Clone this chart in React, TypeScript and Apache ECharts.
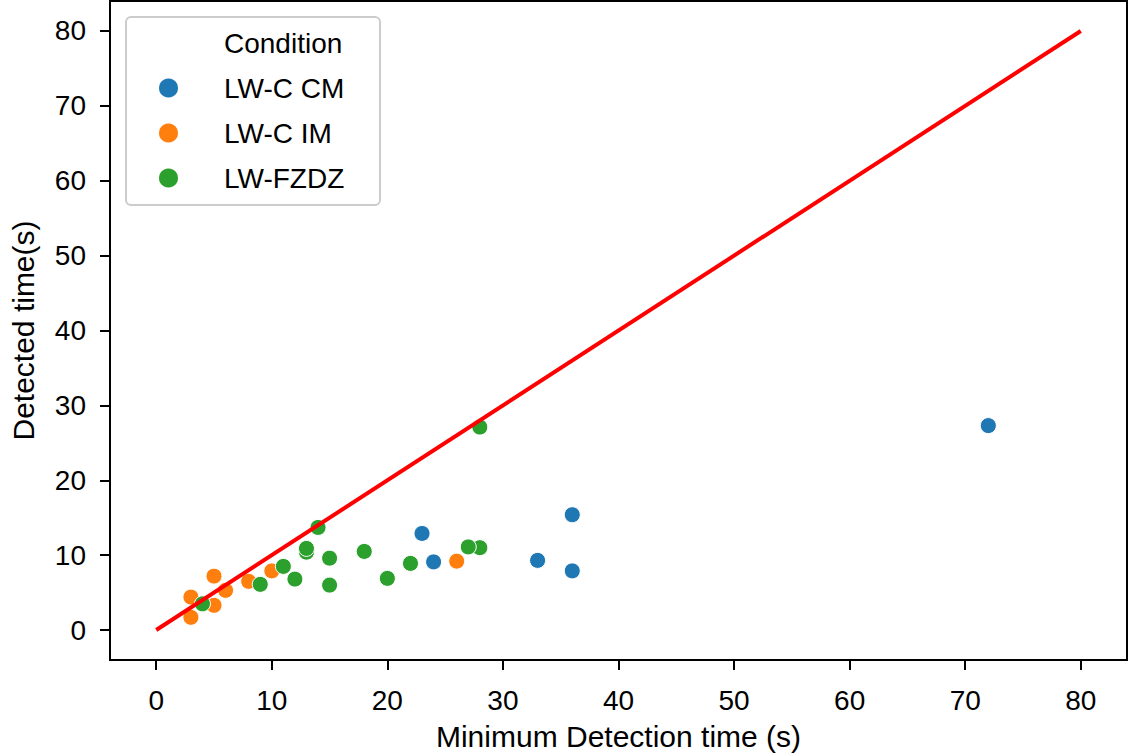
import React, { useEffect, useRef } from "react";
import * as echarts from "echarts";

const cmX = [72, 36, 36, 33, 23, 24];
const cmY = [27.3, 15.4, 7.9, 9.3, 12.9, 9.1];
const imX = [26, 3, 3, 5, 5, 6, 8, 10];
const imY = [9.2, 4.4, 1.7, 7.2, 3.3, 5.3, 6.5, 7.9];
const fzX = [28, 4, 9, 11, 12, 13, 13, 14, 15, 15, 18, 20, 22, 28, 27];
const fzY = [27.1, 3.5, 6.1, 8.5, 6.8, 10.4, 10.9, 13.7, 9.6, 6.0, 10.5, 6.9, 8.9, 11.0, 11.1];
const refX = [0, 80];
const refY = [0, 80];
const tickValues = [0, 10, 20, 30, 40, 50, 60, 70, 80];
const seriesNames = ["LW-C CM", "LW-C IM", "LW-FZDZ"];
const seriesColors = ["#1f77b4", "#ff7f0e", "#2ca02c"];
const legendTitle = "Condition";
const xName = "Minimum Detection time (s)";
const yName = "Detected time(s)";

const FONT = "Liberation Sans";

function zip(xs: number[], ys: number[]) {
  return xs.map((x, i) => [x, ys[i]]);
}

export default function App() {
  const ref = useRef<HTMLDivElement>(null);
  useEffect(() => {
    if (!ref.current) return;
    const chart = echarts.init(ref.current, null, { renderer: "svg" });
    const groups = [zip(cmX, cmY), zip(imX, imY), zip(fzX, fzY)];
    const axisCommon = {
      type: "value",
      min: -4,
      max: 84,
      splitLine: { show: false },
      axisLine: { show: true, onZero: false, lineStyle: { color: "#000", width: 2 } },
      axisTick: {
        show: true,
        length: 10,
        inside: false,
        customValues: tickValues,
        lineStyle: { color: "#000", width: 2 },
      },
      axisLabel: {
        customValues: tickValues,
        color: "#000",
        fontSize: 28,
        fontFamily: FONT,
      },
      nameTextStyle: { color: "#000", fontSize: 30, fontFamily: FONT },
      nameLocation: "middle",
    };
    chart.setOption({
      animation: false,
      backgroundColor: "#fff",
      grid: {
        left: 109,
        right: 3,
        top: 1,
        bottom: 93,
        show: true,
        borderColor: "#000",
        borderWidth: 2,
        backgroundColor: "transparent",
      },
      xAxis: {
        ...axisCommon,
        name: xName,
        nameGap: 61,
        axisLabel: { ...axisCommon.axisLabel, margin: 26 },
      },
      yAxis: {
        ...axisCommon,
        name: yName,
        nameGap: 72,
        nameRotate: 90,
        axisLabel: { ...axisCommon.axisLabel, margin: 24 },
      },
      graphic: [
        {
          type: "rect",
          left: 125,
          top: 16,
          z: 0,
          shape: { width: 254, height: 188, r: 5 },
          style: { fill: "#fff", stroke: "#cccccc", lineWidth: 2 },
        },
      ],
      legend: {
        orient: "vertical",
        left: 157,
        top: 29,
        padding: 0,
        itemWidth: 21,
        itemHeight: 21,
        itemGap: 17,
        selectedMode: false,
        z: 10,
        textStyle: {
          color: "#000",
          fontSize: 28,
          lineHeight: 28,
          fontFamily: FONT,
          padding: [0, 0, 0, 40],
        },
        data: [
          { name: legendTitle, icon: "none" },
          ...seriesNames.map((n) => ({ name: n, icon: "circle" })),
        ],
      },
      series: [
        { name: legendTitle, type: "scatter", data: [] },
        ...seriesNames.map((n, i) => ({
          name: n,
          type: "scatter",
          data: groups[i],
          symbol: "circle",
          symbolSize: 16,
          itemStyle: {
            color: seriesColors[i],
            opacity: 1,
            borderColor: "#fff",
            borderWidth: 1,
          },
          z: 2,
        })),
        {
          name: "ref",
          type: "line",
          data: zip(refX, refY),
          showSymbol: false,
          symbol: "none",
          lineStyle: { color: "#ff0000", width: 4 },
          z: 5,
          silent: true,
        },
      ],
    });
    return () => chart.dispose();
  }, []);
  return (
    <div
      ref={ref}
      style={{ position: "absolute", left: 0, top: 0, width: 1130, height: 756 }}
    />
  );
}
